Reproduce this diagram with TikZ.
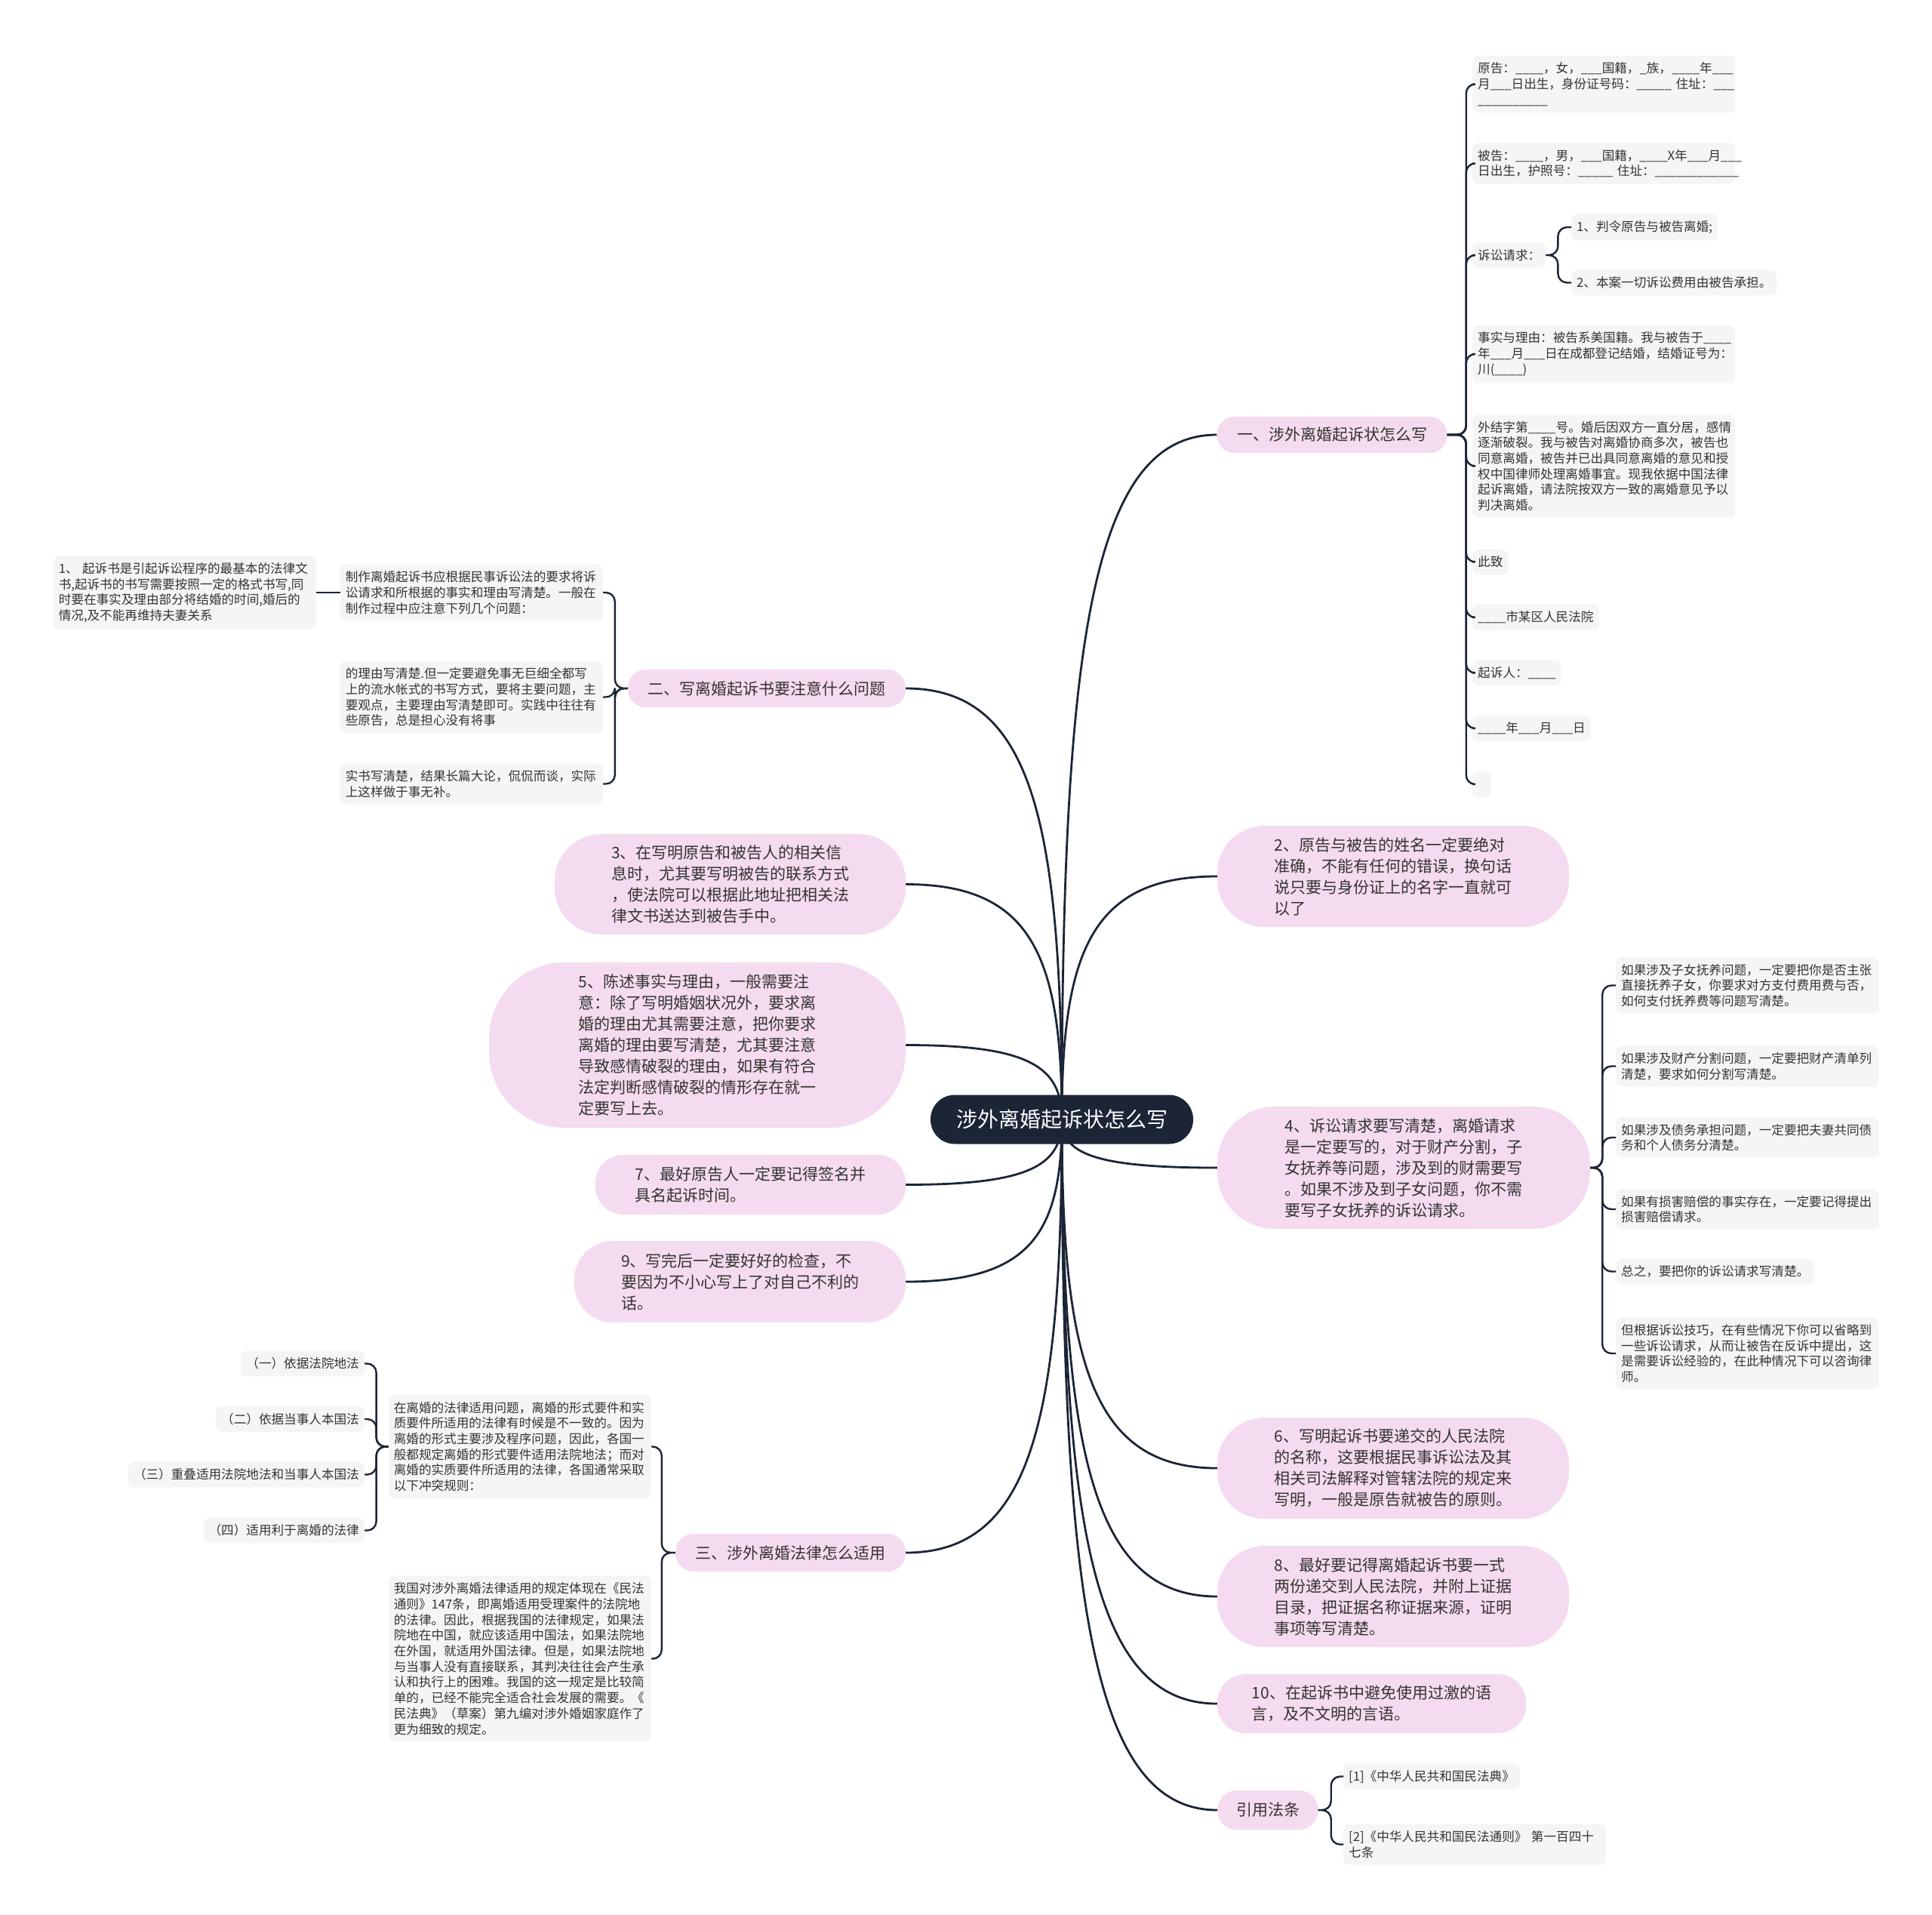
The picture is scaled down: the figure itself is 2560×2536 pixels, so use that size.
\documentclass[tikz,border=0pt]{standalone}
\usepackage{fontspec}
\setmainfont{Noto Sans CJK SC}
\usetikzlibrary{calc}
\pgfdeclarelayer{background}
\pgfsetlayers{background,main}
\definecolor{ink}{HTML}{1B2536}
\definecolor{petal}{HTML}{F5DBEF}
\definecolor{paper}{HTML}{F5F5F5}
\definecolor{script}{HTML}{333333}

\begin{document}
\begin{tikzpicture}[x=1pt, y=-1pt,
    root/.style={fill=ink, text=white, rounded corners=32pt, minimum width=348pt, minimum height=65pt, inner sep=0pt, font=\fontsize{28}{34}\selectfont},
    branch/.style={fill=petal, text=script, align=left, inner sep=0pt, font=\fontsize{21}{28}\selectfont},
    leaf/.style={fill=paper, text=script, align=left, rounded corners=8pt, inner xsep=7pt, inner ysep=9pt, font=\fontsize{16.6}{20.7}\selectfont},
    leafwide/.style={leaf, text width=334pt},
    bough/.style={draw=ink, line width=2.8pt, to path={.. controls ($(\tikztostart)!0.7!(\tikztostart |- \tikztotarget)$) and ($(\tikztostart |- \tikztotarget)!0.2!(\tikztotarget)$) .. (\tikztotarget)}},
    twig/.style={draw=ink, line width=2.4pt, rounded corners=12pt}]
    \useasboundingbox (0,0) rectangle (2560,2536);

    \node[root] (root) at (1407,1483) {涉外离婚起诉状怎么写};

    \node[branch, minimum width=305pt, minimum height=48pt, rounded corners=23pt] (b1) at (1765,576) {一、涉外离婚起诉状怎么写};
    \node[branch, minimum width=466pt, minimum height=134pt, rounded corners=62pt] (b2) at (1846,1161) {2、原告与被告的姓名一定要绝对\\准确，不能有任何的错误，换句话\\说只要与身份证上的名字一直就可\\以了};
    \node[branch, minimum width=494pt, minimum height=162pt, rounded corners=76pt] (b4) at (1860,1547) {4、诉讼请求要写清楚，离婚请求\\是一定要写的，对于财产分割，子\\女抚养等问题，涉及到的财需要写\\。如果不涉及到子女问题，你不需\\要写子女抚养的诉讼请求。};
    \node[branch, minimum width=466pt, minimum height=134pt, rounded corners=62pt] (b6) at (1846,1945) {6、写明起诉书要递交的人民法院\\的名称，这要根据民事诉讼法及其\\相关司法解释对管辖法院的规定来\\写明，一般是原告就被告的原则。};
    \node[branch, minimum width=466pt, minimum height=134pt, rounded corners=62pt] (b8) at (1846,2115) {8、最好要记得离婚起诉书要一式\\两份递交到人民法院，并附上证据\\目录，把证据名称证据来源，证明\\事项等写清楚。};
    \node[branch, minimum width=409pt, minimum height=78pt, rounded corners=37pt] (b10) at (1817.5,2257) {10、在起诉书中避免使用过激的语\\言，及不文明的言语。};
    \node[branch, minimum width=133pt, minimum height=52pt, rounded corners=25pt] (law) at (1680,2398) {引用法条};

    \node[branch, minimum width=368pt, minimum height=50pt, rounded corners=24pt] (bII) at (1016,912) {二、写离婚起诉书要注意什么问题};
    \node[branch, minimum width=465pt, minimum height=133pt, rounded corners=62pt] (b3) at (967.5,1171.5) {3、在写明原告和被告人的相关信\\息时，尤其要写明被告的联系方式\\，使法院可以根据此地址把相关法\\律文书送达到被告手中。};
    \node[branch, minimum width=552pt, minimum height=219pt, rounded corners=100pt] (b5) at (924,1384.5) {5、陈述事实与理由，一般需要注\\意：除了写明婚姻状况外，要求离\\婚的理由尤其需要注意，把你要求\\离婚的理由要写清楚，尤其要注意\\导致感情破裂的理由，如果有符合\\法定判断感情破裂的情形存在就一\\定要写上去。};
    \node[branch, minimum width=411pt, minimum height=79pt, rounded corners=37pt] (b7) at (994.5,1569.5) {7、最好原告人一定要记得签名并\\具名起诉时间。};
    \node[branch, minimum width=439pt, minimum height=108pt, rounded corners=51pt] (b9) at (980.5,1698) {9、写完后一定要好好的检查，不\\要因为不小心写上了对自己不利的\\话。};
    \node[branch, minimum width=305pt, minimum height=50pt, rounded corners=24pt] (bIII) at (1047.5,2057) {三、涉外离婚法律怎么适用};

    \node[leafwide, anchor=west] (plaintiff) at (1951,111.5) {原告：\_\_\_\_，女，\_\_\_国籍，\_族，\_\_\_\_年\_\_\_\\月\_\_\_日出生，身份证号码：\_\_\_\_\_~住址：\_\_\_\\\_\_\_\_\_\_\_\_\_\_};
    \node[leafwide, anchor=west] (defendant) at (1951,216.5) {被告：\_\_\_\_，男，\_\_\_国籍，\_\_\_\_X年\_\_\_月\_\_\_\\日出生，护照号：\_\_\_\_\_~住址：\_\_\_\_\_\_\_\_\_\_\_\_};
    \node[leaf, anchor=west] (claims) at (1951,338) {诉讼请求：};
    \node[leaf, anchor=west] (claim1) at (2082,301) {1、判令原告与被告离婚;};
    \node[leaf, anchor=west] (claim2) at (2082,374.5) {2、本案一切诉讼费用由被告承担。};
    \node[leafwide, anchor=west] (facts) at (1951,469) {事实与理由：被告系美国籍。我与被告于\_\_\_\_\\年\_\_\_月\_\_\_日在成都登记结婚，结婚证号为：\\川(\_\_\_\_)};
    \node[leafwide, anchor=west] (facts2) at (1951,617.5) {外结字第\_\_\_\_号。婚后因双方一直分居，感情\\逐渐破裂。我与被告对离婚协商多次，被告也\\同意离婚，被告并已出具同意离婚的意见和授\\权中国律师处理离婚事宜。现我依据中国法律\\起诉离婚，请法院按双方一致的离婚意见予以\\判决离婚。};
    \node[leaf, anchor=west] (regards) at (1951,744.5) {此致};
    \node[leaf, anchor=west] (court) at (1951,818) {\_\_\_\_市某区人民法院};
    \node[leaf, anchor=west] (signer) at (1951,891.5) {起诉人：\_\_\_\_};
    \node[leaf, anchor=west] (date) at (1951,965) {\_\_\_\_年\_\_\_月\_\_\_日};
    \node[leaf, anchor=west, minimum width=25pt, minimum height=35pt] (blank) at (1951,1039) {};

    \node[leafwide, anchor=west] (kids) at (2141,1305.5) {如果涉及子女抚养问题，一定要把你是否主张\\直接抚养子女，你要求对方支付费用费与否，\\如何支付抚养费等问题写清楚。};
    \node[leafwide, anchor=west] (assets) at (2141,1412.5) {如果涉及财产分割问题，一定要把财产清单列\\清楚，要求如何分割写清楚。};
    \node[leafwide, anchor=west] (debts) at (2141,1507) {如果涉及债务承担问题，一定要把夫妻共同债\\务和个人债务分清楚。};
    \node[leafwide, anchor=west] (damages) at (2141,1602) {如果有损害赔偿的事实存在，一定要记得提出\\损害赔偿请求。};
    \node[leaf, anchor=west] (summary) at (2141,1684.5) {总之，要把你的诉讼请求写清楚。};
    \node[leafwide, anchor=west] (tactics) at (2141,1793) {但根据诉讼技巧，在有些情况下你可以省略到\\一些诉讼请求，从而让被告在反诉中提出，这\\是需要诉讼经验的，在此种情况下可以咨询律\\师。};

    \node[leafwide, anchor=east] (draft) at (799,785) {制作离婚起诉书应根据民事诉讼法的要求将诉\\讼请求和所根据的事实和理由写清楚。一般在\\制作过程中应注意下列几个问题：};
    \node[leafwide, anchor=east] (basics) at (419,785) {1、~起诉书是引起诉讼程序的最基本的法律文\\书,起诉书的书写需要按照一定的格式书写,同\\时要在事实及理由部分将结婚的时间,婚后的\\情况,及不能再维持夫妻关系};
    \node[leafwide, anchor=east] (reason) at (799,923.5) {的理由写清楚.但一定要避免事无巨细全都写\\上的流水帐式的书写方式，要将主要问题，主\\要观点，主要理由写清楚即可。实践中往往有\\些原告，总是担心没有将事};
    \node[leafwide, anchor=east] (reason2) at (799,1038.5) {实书写清楚，结果长篇大论，侃侃而谈，实际\\上这样做于事无补。};

    \node[leafwide, anchor=east] (rules) at (863,1916.5) {在离婚的法律适用问题，离婚的形式要件和实\\质要件所适用的法律有时候是不一致的。因为\\离婚的形式主要涉及程序问题，因此，各国一\\般都规定离婚的形式要件适用法院地法；而对\\离婚的实质要件所适用的法律，各国通常采取\\以下冲突规则：};
    \node[leafwide, anchor=east] (china) at (863,2197.5) {我国对涉外离婚法律适用的规定体现在《民法\\通则》147条，即离婚适用受理案件的法院地\\的法律。因此，根据我国的法律规定，如果法\\院地在中国，就应该适用中国法，如果法院地\\在外国，就适用外国法律。但是，如果法院地\\与当事人没有直接联系，其判决往往会产生承\\认和执行上的困难。我国的这一规定是比较简\\单的，已经不能完全适合社会发展的需要。《\\民法典》（草案）第九编对涉外婚姻家庭作了\\更为细致的规定。};
    \node[leaf, anchor=east] (rule1) at (483,1806.5) {（一）依据法院地法};
    \node[leaf, anchor=east] (rule2) at (483,1880) {（二）依据当事人本国法};
    \node[leaf, anchor=east] (rule3) at (483,1953.5) {（三）重叠适用法院地法和当事人本国法};
    \node[leaf, anchor=east] (rule4) at (483,2027.5) {（四）适用利于离婚的法律};

    \node[leaf, anchor=west] (code1) at (1780,2353.5) {[1]《中华人民共和国民法典》};
    \node[leafwide, anchor=west] (code2) at (1780,2443.5) {[2]《中华人民共和国民法通则》~第一百四十\\七条};

    \begin{pgfonlayer}{background}
    \draw[bough] (root.center) to (b1.west);
    \draw[bough] (root.center) to (b2.west);
    \draw[bough] (root.center) to (b4.west);
    \draw[bough] (root.center) to (b6.west);
    \draw[bough] (root.center) to (b8.west);
    \draw[bough] (root.center) to (b10.west);
    \draw[bough] (root.center) to (law.west);
    \draw[bough] (root.center) to (bII.east);
    \draw[bough] (root.center) to (b3.east);
    \draw[bough] (root.center) to (b5.east);
    \draw[bough] (root.center) to (b7.east);
    \draw[bough] (root.center) to (b9.east);
    \draw[bough] (root.center) to (bIII.east);
    \end{pgfonlayer}

    \draw[twig] (b1.east) -- ++(25,0) |- (plaintiff.west);
    \draw[twig] (b1.east) -- ++(25,0) |- (defendant.west);
    \draw[twig] (b1.east) -- ++(25,0) |- (claims.west);
    \draw[twig] (b1.east) -- ++(25,0) |- (facts.west);
    \draw[twig] (b1.east) -- ++(25,0) |- (facts2.west);
    \draw[twig] (b1.east) -- ++(25,0) |- (regards.west);
    \draw[twig] (b1.east) -- ++(25,0) |- (court.west);
    \draw[twig] (b1.east) -- ++(25,0) |- (signer.west);
    \draw[twig] (b1.east) -- ++(25,0) |- (date.west);
    \draw[twig] (b1.east) -- ++(25,0) |- (blank.west);
    \draw[twig] (claims.east) -- ++(16,0) |- (claim1.west);
    \draw[twig] (claims.east) -- ++(16,0) |- (claim2.west);

    \draw[twig] (b4.east) -- ++(16,0) |- (kids.west);
    \draw[twig] (b4.east) -- ++(16,0) |- (assets.west);
    \draw[twig] (b4.east) -- ++(16,0) |- (debts.west);
    \draw[twig] (b4.east) -- ++(16,0) |- (damages.west);
    \draw[twig] (b4.east) -- ++(16,0) |- (summary.west);
    \draw[twig] (b4.east) -- ++(16,0) |- (tactics.west);

    \draw[twig] (law.east) -- ++(17,0) |- (code1.west);
    \draw[twig] (law.east) -- ++(17,0) |- (code2.west);

    \draw[twig] (bII.west) -- ++(-17,0) |- (draft.east);
    \draw[twig] (bII.west) -- ++(-17,0) |- (reason.east);
    \draw[twig] (bII.west) -- ++(-17,0) |- (reason2.east);
    \draw[twig] (draft.west) -- (basics.east);

    \draw[twig] (bIII.west) -- ++(-18,0) |- (rules.east);
    \draw[twig] (bIII.west) -- ++(-18,0) |- (china.east);
    \draw[twig] (rules.west) -- ++(-16,0) |- (rule1.east);
    \draw[twig] (rules.west) -- ++(-16,0) |- (rule2.east);
    \draw[twig] (rules.west) -- ++(-16,0) |- (rule3.east);
    \draw[twig] (rules.west) -- ++(-16,0) |- (rule4.east);
\end{tikzpicture}
\end{document}
